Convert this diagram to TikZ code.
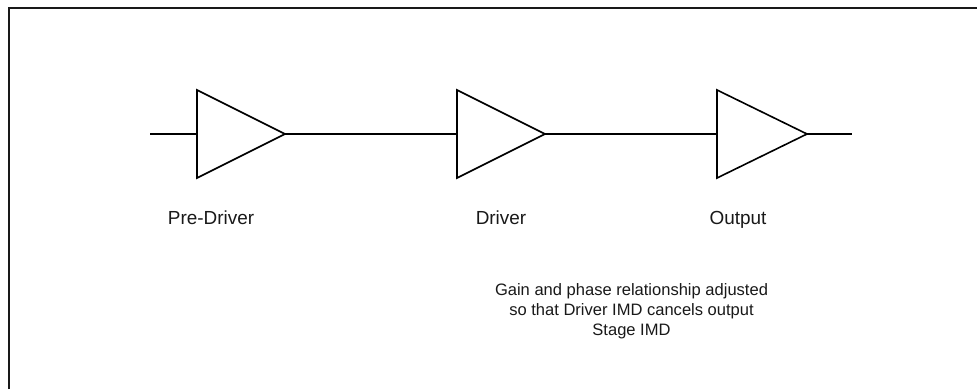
\documentclass[tikz,border=0pt]{standalone}
\usepackage{fontspec}
\setmainfont{Liberation Sans}
\tikzset{
  wire/.style={draw=black,line width=1.2pt,line cap=butt},
  amp/.style={draw=black,fill=white,line width=1.2pt,line join=miter},
  frameline/.style={draw=black!90,line width=1.3pt},
  biglabel/.style={inner sep=0pt,anchor=base,font=\fontsize{14.2pt}{17pt}\selectfont,text=black!90},
  note/.style={inner sep=0pt,align=center,font=\fontsize{12.4pt}{15pt}\selectfont,text=black!90}
}
\begin{document}
\begin{tikzpicture}[x=0.75pt,y=-0.75pt]
\useasboundingbox (0,0) rectangle (977,389);
\fill[white] (0,0) rectangle (977,389);
\draw[frameline] (8.7,389) -- (8.7,8) -- (977,8);
% free ends
\coordinate (in) at (150,134);
\coordinate (out) at (852,134);
% amplifier 1
\coordinate (a1t) at (197,90);
\coordinate (a1b) at (197,178);
\coordinate (a1i) at (197,134);
\coordinate (a1o) at (285,134);
% amplifier 2
\coordinate (a2t) at (457,90);
\coordinate (a2b) at (457,178);
\coordinate (a2i) at (457,134);
\coordinate (a2o) at (545,134);
% amplifier 3
\coordinate (a3t) at (717,90);
\coordinate (a3b) at (717,178);
\coordinate (a3i) at (717,134);
\coordinate (a3o) at (807,134);
\draw[wire] (in) -- (a1i);
\draw[wire] (a1o) -- (a2i);
\draw[wire] (a2o) -- (a3i);
\draw[wire] (a3o) -- (out);
\draw[amp] (a1t) -- (a1o) -- (a1b) -- cycle;
\draw[amp] (a2t) -- (a2o) -- (a2b) -- cycle;
\draw[amp] (a3t) -- (a3o) -- (a3b) -- cycle;
\node[biglabel] (l1) at (211,224) {Pre-Driver};
\node[biglabel] (l2) at (501,224) {Driver};
\node[biglabel] (l3) at (738,224) {Output};
\node[note] (n) at (631.5,311) {Gain and phase relationship adjusted\\so that Driver IMD cancels output\\Stage IMD};
\end{tikzpicture}
\end{document}
